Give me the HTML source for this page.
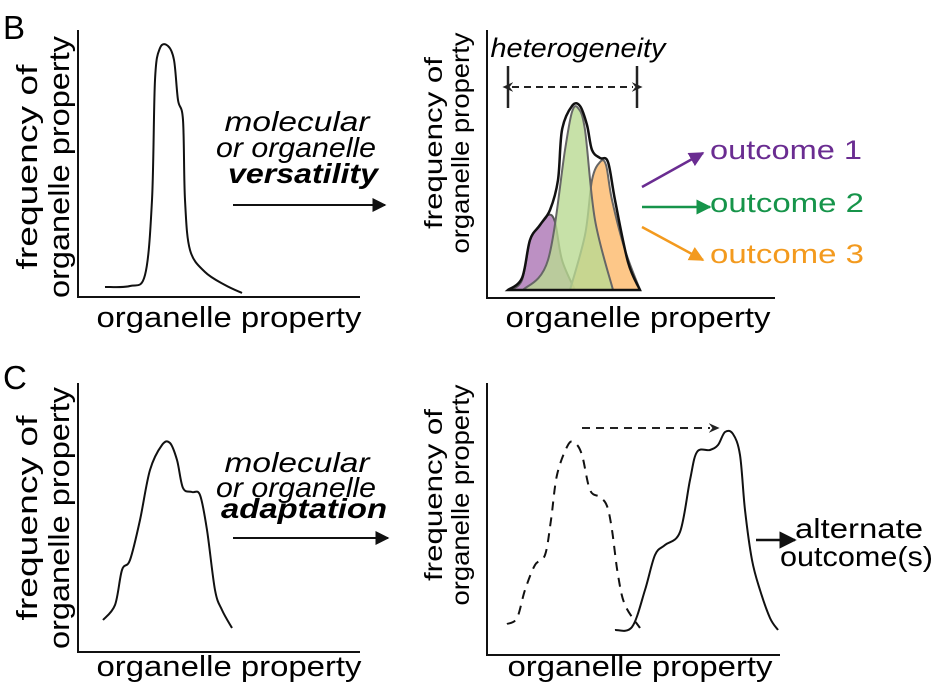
<!DOCTYPE html>
<html><head><meta charset="utf-8">
<style>
html,body{margin:0;padding:0;background:#fff;}
svg{display:block;font-family:"Liberation Sans",Arial,sans-serif;}
</style></head>
<body>
<svg id="fig" width="942" height="685" viewBox="0 0 942 685">
<defs>
<marker id="ah" viewBox="0 0 10 10" refX="9" refY="5" markerWidth="7" markerHeight="7" orient="auto-start-reverse"><path d="M0,0 L10,5 L0,10 z" fill="#111"/></marker>
<marker id="ahp" viewBox="0 0 10 10" refX="9" refY="5" markerWidth="6" markerHeight="6" orient="auto"><path d="M0,0 L10,5 L0,10 z" fill="#6a2c91"/></marker>
<marker id="ahg" viewBox="0 0 10 10" refX="9" refY="5" markerWidth="6" markerHeight="6" orient="auto"><path d="M0,0 L10,5 L0,10 z" fill="#16944a"/></marker>
<marker id="aho" viewBox="0 0 10 10" refX="9" refY="5" markerWidth="6" markerHeight="6" orient="auto"><path d="M0,0 L10,5 L0,10 z" fill="#f39a1e"/></marker>
<marker id="ahd" viewBox="0 0 10 10" refX="1" refY="5" markerWidth="6" markerHeight="6" orient="auto-start-reverse"><path d="M0,1 L9,5 L0,9 L3,5 z" fill="#222"/></marker>
</defs>

<text x="3" y="39" font-size="33">B</text>
<text x="3" y="389" font-size="33">C</text>

<!-- Panel B left -->
<g>
<path d="M78,30 V297 H360" fill="none" stroke="#111" stroke-width="2"/>
<g transform="translate(37,167) rotate(-90)" font-size="29" text-anchor="middle"><text y="0" textLength="205" lengthAdjust="spacingAndGlyphs">frequency of</text><text y="32" textLength="262" lengthAdjust="spacingAndGlyphs">organelle property</text></g>
<text x="229" y="327" font-size="29" text-anchor="middle" textLength="265" lengthAdjust="spacingAndGlyphs">organelle property</text>
<path id="bl" fill="none" stroke="#111" stroke-width="2"/>
</g>

<g font-size="28" text-anchor="middle">
<text x="297" y="131" font-style="italic" textLength="145" lengthAdjust="spacingAndGlyphs">molecular</text>
<text x="296" y="157" font-style="italic" textLength="160" lengthAdjust="spacingAndGlyphs">or organelle</text>
<text x="303" y="183" font-style="italic" font-weight="bold" textLength="150" lengthAdjust="spacingAndGlyphs">versatility</text>
</g>
<line x1="233" y1="205" x2="385" y2="205" stroke="#111" stroke-width="2" marker-end="url(#ah)"/>

<!-- Panel B right -->
<g>
<path d="M487,30 V298 H775" fill="none" stroke="#111" stroke-width="2"/>
<g transform="translate(442,143) rotate(-90)" font-size="25" text-anchor="middle"><text y="0" textLength="172" lengthAdjust="spacingAndGlyphs">frequency of</text><text y="27" textLength="221" lengthAdjust="spacingAndGlyphs">organelle property</text></g>
<text x="638" y="327" font-size="29" text-anchor="middle" textLength="265" lengthAdjust="spacingAndGlyphs">organelle property</text>
<text x="578" y="57" font-size="27" font-style="italic" text-anchor="middle" textLength="175" lengthAdjust="spacingAndGlyphs">heterogeneity</text>
<line x1="508" y1="66" x2="508" y2="108" stroke="#222" stroke-width="2.5"/>
<line x1="637" y1="66" x2="637" y2="108" stroke="#222" stroke-width="2.5"/>
<line x1="512" y1="87" x2="633" y2="87" stroke="#222" stroke-width="2" stroke-dasharray="7,5" marker-start="url(#ahd)" marker-end="url(#ahd)"/>
<path id="bp" fill="#b07cb8" fill-opacity="0.85" stroke="#555" stroke-width="2"/>
<path id="bo" fill="#fdb96a" fill-opacity="0.8" stroke="#666" stroke-width="2"/>
<path id="bg" fill="#b9da92" fill-opacity="0.8" stroke="#666" stroke-width="2"/>
<path id="bt" fill="none" stroke="#111" stroke-width="2.5"/>
<line x1="642" y1="187" x2="703" y2="153" stroke="#6a2c91" stroke-width="2.5" marker-end="url(#ahp)"/>
<line x1="642" y1="207" x2="710" y2="207" stroke="#16944a" stroke-width="2.5" marker-end="url(#ahg)"/>
<line x1="642" y1="227" x2="703" y2="260" stroke="#f39a1e" stroke-width="2.5" marker-end="url(#aho)"/>
<text x="710" y="159" font-size="27" fill="#6a2c91" textLength="152" lengthAdjust="spacingAndGlyphs">outcome 1</text>
<text x="710" y="212" font-size="27" fill="#16944a" textLength="154" lengthAdjust="spacingAndGlyphs">outcome 2</text>
<text x="710" y="263" font-size="27" fill="#f39a1e" textLength="154" lengthAdjust="spacingAndGlyphs">outcome 3</text>
</g>

<!-- Panel C left -->
<g>
<path d="M78,383 V652 H360" fill="none" stroke="#111" stroke-width="2"/>
<g transform="translate(37,518) rotate(-90)" font-size="29" text-anchor="middle"><text y="0" textLength="205" lengthAdjust="spacingAndGlyphs">frequency of</text><text y="32" textLength="262" lengthAdjust="spacingAndGlyphs">organelle property</text></g>
<text x="229" y="676" font-size="29" text-anchor="middle" textLength="265" lengthAdjust="spacingAndGlyphs">organelle property</text>
<path id="cl" fill="none" stroke="#111" stroke-width="2"/>
</g>

<g font-size="28" text-anchor="middle">
<text x="297" y="472" font-style="italic" textLength="145" lengthAdjust="spacingAndGlyphs">molecular</text>
<text x="296" y="497" font-style="italic" textLength="160" lengthAdjust="spacingAndGlyphs">or organelle</text>
<text x="304" y="518" font-style="italic" font-weight="bold" textLength="166" lengthAdjust="spacingAndGlyphs">adaptation</text>
</g>
<line x1="233" y1="538" x2="388" y2="538" stroke="#111" stroke-width="2" marker-end="url(#ah)"/>

<!-- Panel C right -->
<g>
<path d="M487,383 V655 H780" fill="none" stroke="#111" stroke-width="2"/>
<g transform="translate(442,495) rotate(-90)" font-size="25" text-anchor="middle"><text y="0" textLength="172" lengthAdjust="spacingAndGlyphs">frequency of</text><text y="27" textLength="221" lengthAdjust="spacingAndGlyphs">organelle property</text></g>
<text x="640" y="676" font-size="29" text-anchor="middle" textLength="265" lengthAdjust="spacingAndGlyphs">organelle property</text>
<line x1="582" y1="428" x2="710" y2="428" stroke="#222" stroke-width="2" stroke-dasharray="8,6" marker-end="url(#ahd)"/>
<path id="cd" fill="none" stroke="#111" stroke-width="2" stroke-dasharray="9,7"/>
<path id="cs" fill="none" stroke="#111" stroke-width="2"/>
<line x1="756" y1="540" x2="795" y2="540" stroke="#111" stroke-width="2.5" marker-end="url(#ah)"/>
<text x="795" y="538" font-size="28" textLength="128" lengthAdjust="spacingAndGlyphs">alternate</text>
<text x="780" y="566" font-size="28" textLength="153" lengthAdjust="spacingAndGlyphs">outcome(s)</text>
</g>
</svg>
<script>
const bLeftPts=[[105,287],[130,286],[145,275],[152,200],[155,80],[160,48],[168,46],[174,60],[178,100],[183,120],[185,200],[190,250],[205,272],[225,285],[242,293]];
const bPurplePts=[[510,290],[522,280],[530,240],[538,228],[548,215],[555,222],[562,260],[575,290]];
const bGreenPts=[[523,290],[548,260],[565,150],[572,112],[578,108],[585,130],[595,220],[613,290]];
const bOrangePts=[[570,290],[585,235],[592,180],[600,162],[606,165],[612,200],[625,250],[640,290]];
const bTotalPts=[[508,290],[522,278],[530,240],[540,225],[550,210],[558,180],[562,130],[572,106],[580,106],[587,125],[592,150],[600,158],[608,162],[615,200],[628,262],[640,290]];
const cLeftPts=[[103,620],[115,605],[122,570],[130,560],[140,520],[150,470],[162,445],[170,443],[177,460],[183,488],[192,492],[200,495],[207,530],[215,590],[222,610],[232,628]];
const cDashPts=[[507,624],[517,618],[525,590],[535,565],[545,555],[551,520],[557,475],[568,445],[575,443],[582,455],[590,490],[600,497],[607,506],[612,530],[618,575],[625,605],[640,628]];
const cSolidPts=[[615,630],[632,627],[645,590],[655,555],[665,545],[680,532],[690,480],[697,452],[710,450],[718,445],[725,432],[733,434],[740,455],[745,510],[752,560],[760,590],[770,618],[778,630]];
function smooth(p,close){
  let d="M"+p[0][0]+","+p[0][1];
  for(let i=0;i<p.length-1;i++){
    const p0=p[Math.max(0,i-1)],p1=p[i],p2=p[i+1],p3=p[Math.min(p.length-1,i+2)];
    const c1=[p1[0]+(p2[0]-p0[0])/6,p1[1]+(p2[1]-p0[1])/6];
    const c2=[p2[0]-(p3[0]-p1[0])/6,p2[1]-(p3[1]-p1[1])/6];
    d+=` C${c1[0].toFixed(1)},${c1[1].toFixed(1)} ${c2[0].toFixed(1)},${c2[1].toFixed(1)} ${p2[0]},${p2[1]}`;
  }
  if(close)d+=" Z";
  return d;
}
document.getElementById('bl').setAttribute('d',smooth(bLeftPts));
document.getElementById('bp').setAttribute('d',smooth(bPurplePts,true));
document.getElementById('bg').setAttribute('d',smooth(bGreenPts,true));
document.getElementById('bo').setAttribute('d',smooth(bOrangePts,true));
document.getElementById('bt').setAttribute('d',smooth(bTotalPts,true));
document.getElementById('cl').setAttribute('d',smooth(cLeftPts));
document.getElementById('cd').setAttribute('d',smooth(cDashPts));
document.getElementById('cs').setAttribute('d',smooth(cSolidPts));
</script>
</body></html>
